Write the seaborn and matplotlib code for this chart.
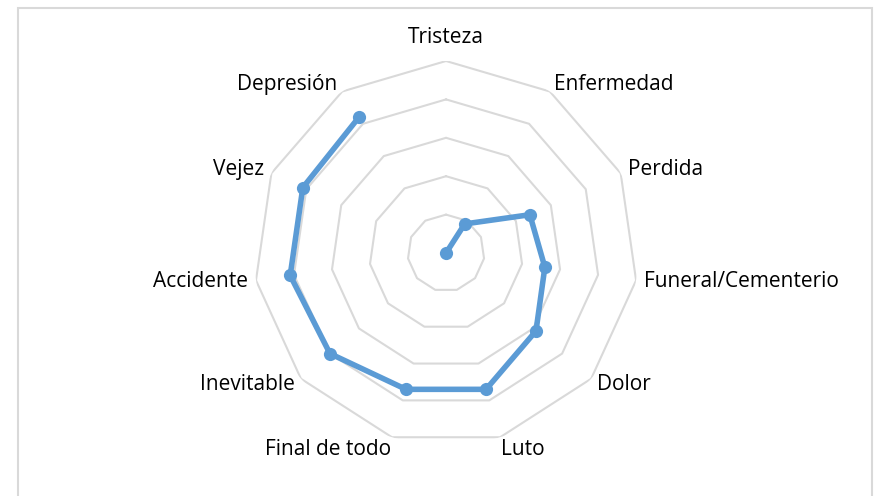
import numpy as np
import matplotlib
matplotlib.use("Agg")
import matplotlib.pyplot as plt
import seaborn as sns
from matplotlib.patches import Rectangle

# categories clockwise from the top
categories = ['Tristeza', 'Enfermedad', 'Perdida', 'Funeral/Cementerio', 'Dolor',
              'Luto', 'Final de todo', 'Inevitable', 'Accidente', 'Vejez', 'Depresión']
values = [0, 9, 24, 26, 31, 37, 37, 40, 41, 41, 42]
ring_levels = [10, 20, 30, 40, 50]

sns.set_style('white')
plt.rcParams['font.family'] = ['Open Sans', 'DejaVu Sans']

fig = plt.figure(figsize=(8.75, 4.96), dpi=100)
ax = fig.add_axes([0.2903, 0.1028, 0.4389, 0.7742], projection='polar')
ax.set_theta_zero_location('N')
ax.set_theta_direction(-1)

n = len(categories)
theta = np.linspace(0, 2 * np.pi, n, endpoint=False)
theta_closed = np.append(theta, theta[0])

# polygon grid rings
for lvl in ring_levels:
    ax.plot(theta_closed, [lvl] * (n + 1), color='#d9d9d9', lw=1.5, zorder=1)

vals_closed = values + values[:1]
sns.lineplot(x=theta_closed, y=vals_closed, sort=False, ax=ax, color='#5b9bd5',
             lw=4, marker='o', markersize=9.5, markeredgewidth=0, zorder=3)

ax.set_ylim(0, ring_levels[-1])
ax.set_xticks([])
ax.set_yticks([])
ax.grid(False)
ax.spines['polar'].set_visible(False)

# category labels just outside the outer ring
for t, lab in zip(theta, categories):
    s, c = np.sin(t), np.cos(t)
    ha = 'left' if s > 0.1 else ('right' if s < -0.1 else 'center')
    if c > 0.9:
        va, off = 'bottom', 9.5
    elif c < -0.9:
        va, off = 'top', 1
    else:
        va, off = 'center', 6
    ax.annotate(lab, xy=(t, ring_levels[-1]), xytext=(off * s, off * c),
                textcoords='offset points', ha=ha, va=va, fontsize=15,
                color='#000000', annotation_clip=False)

# chart area border
fig.patches.append(Rectangle((18 / 875, -0.1), (872 - 18) / 875, 1.1 - 8 / 496,
                             transform=fig.transFigure, fill=False,
                             edgecolor='#d9d9d9', lw=1.5))

fig.savefig('out.png', dpi=100)
